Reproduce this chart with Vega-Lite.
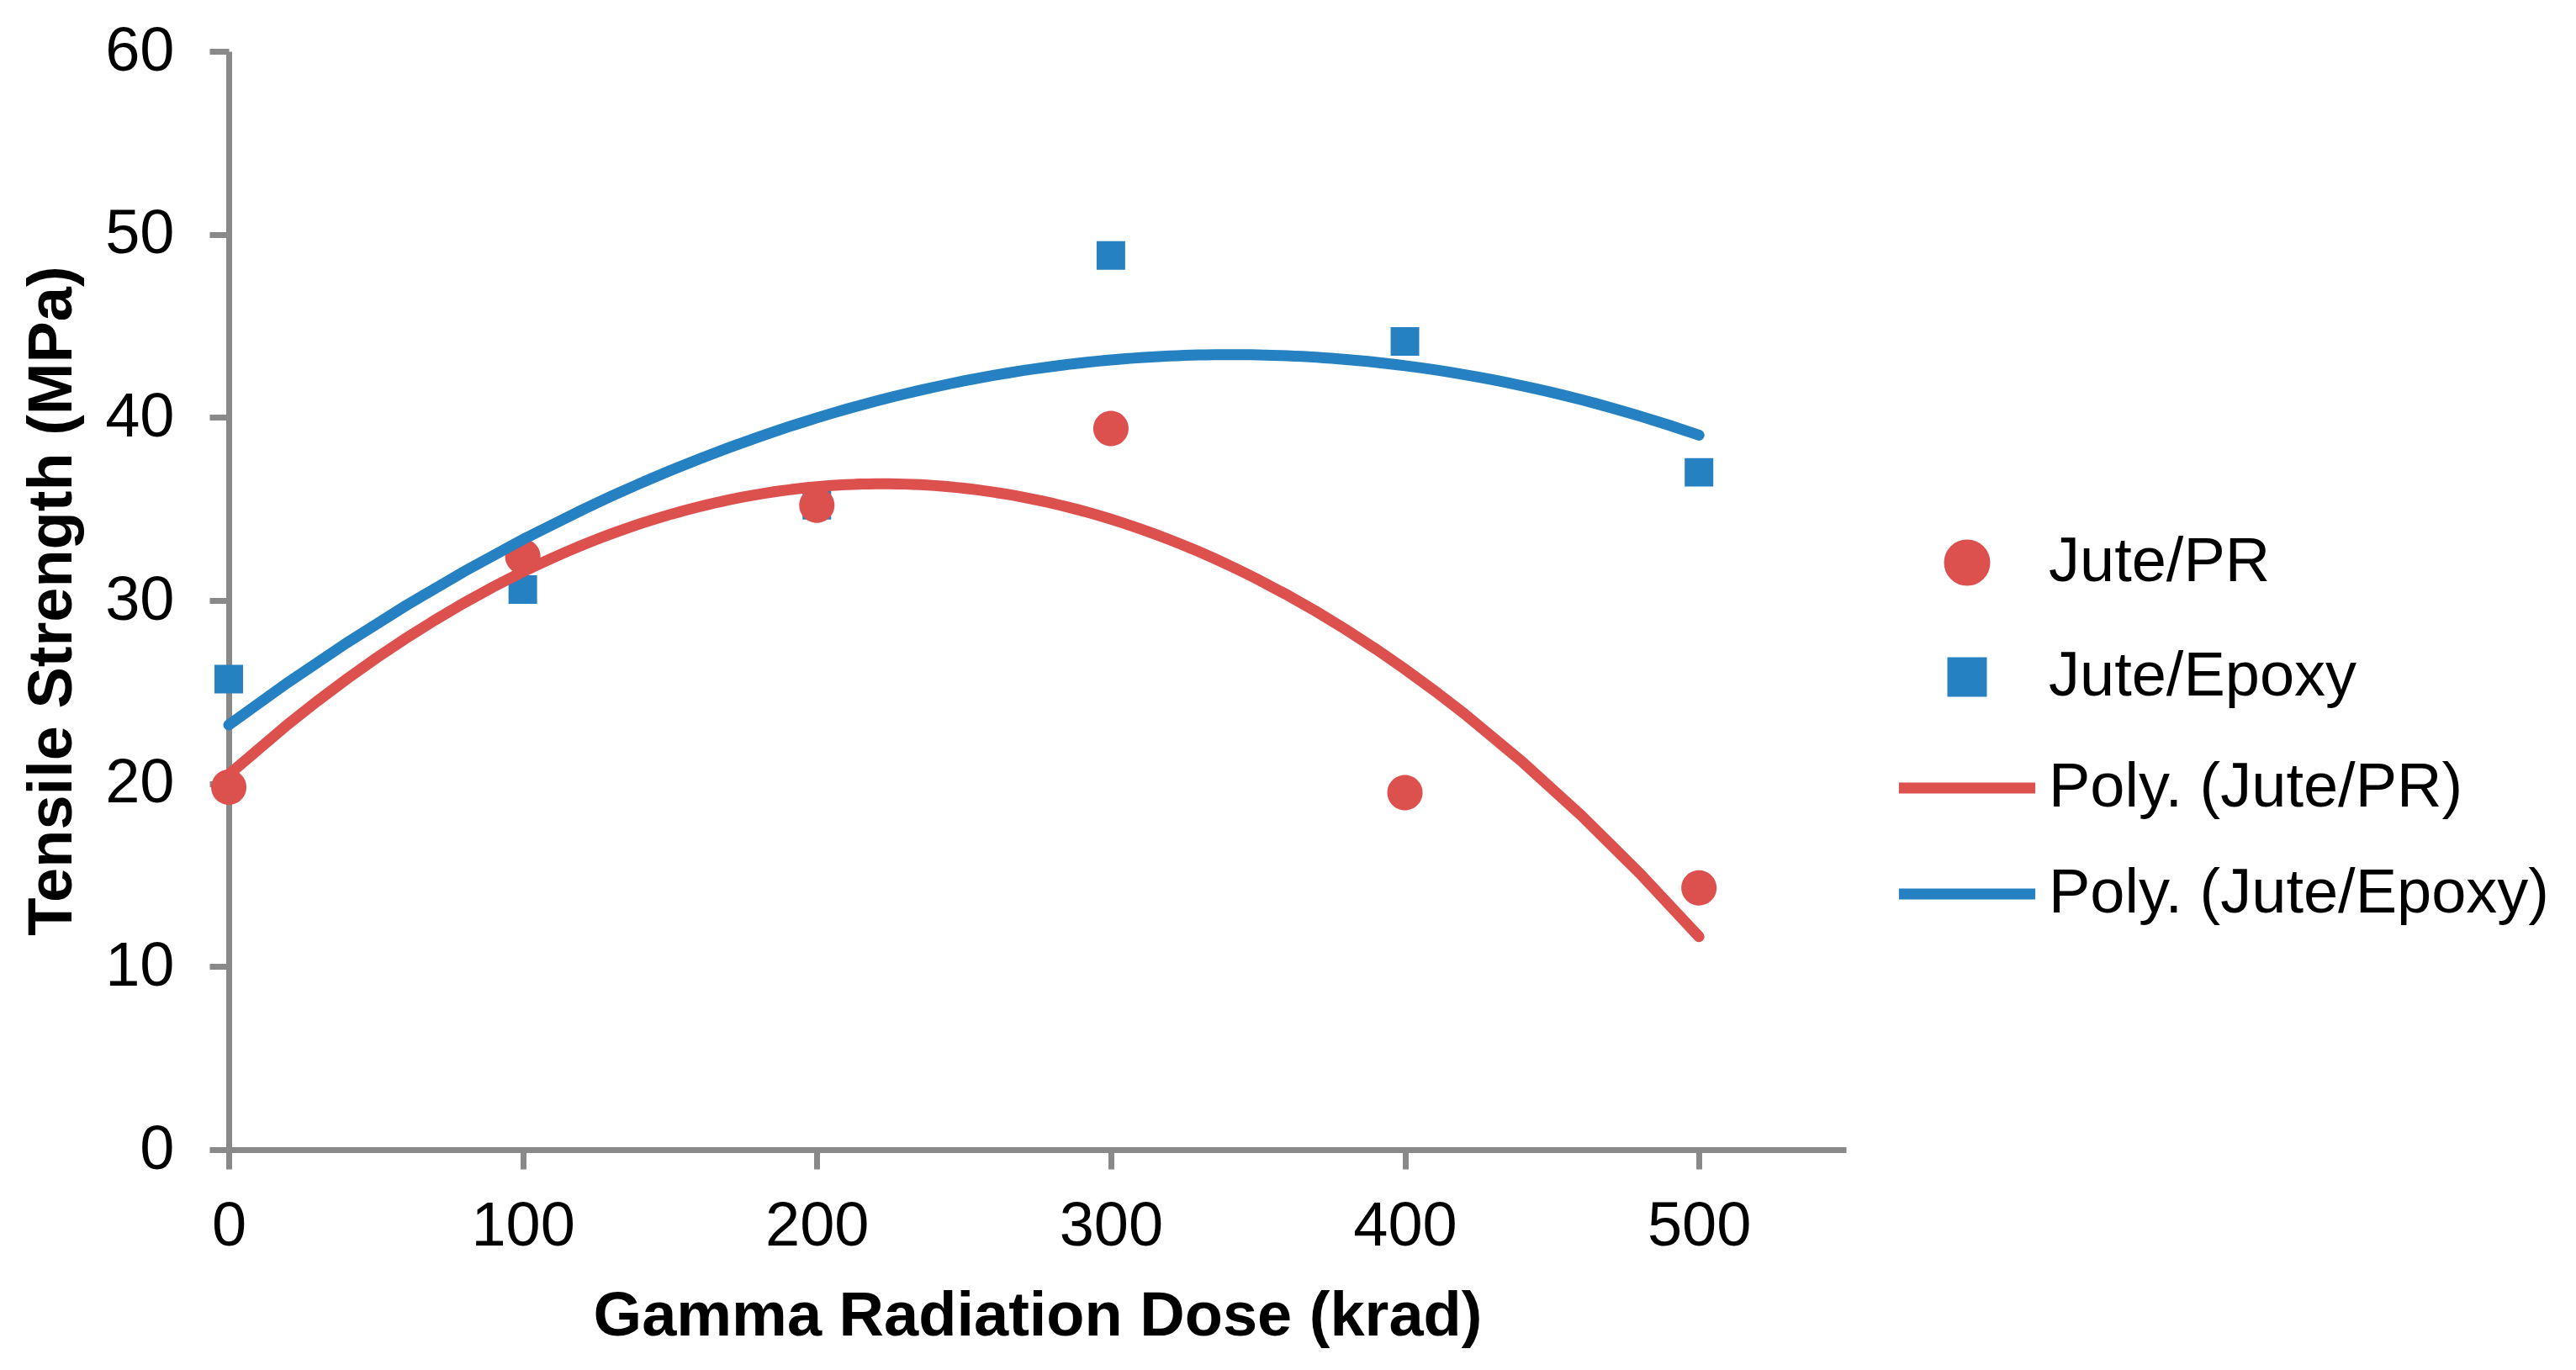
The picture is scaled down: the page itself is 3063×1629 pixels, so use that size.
{
  "$schema": "https://vega.github.io/schema/vega-lite/v6.json",
  "width": 1923,
  "height": 1306,
  "autosize": {"type": "none"},
  "padding": {"left": 272, "top": 61, "right": 868, "bottom": 262},
  "background": "white",
  "config": {
    "view": {"stroke": null},
    "font": "Liberation Sans",
    "axis": {
      "grid": false,
      "labelFlush": false,
      "labelOverlap": false,
      "domainColor": "#898989",
      "domainWidth": 7,
      "tickColor": "#898989",
      "tickWidth": 7,
      "tickSize": 23,
      "labelFont": "Liberation Sans",
      "labelFontSize": 74,
      "labelColor": "#000000",
      "titleFont": "Liberation Sans",
      "titleFontSize": 74,
      "titleFontWeight": "bold",
      "titleColor": "#000000",
      "labelLimit": 1000,
      "titleLimit": 3000
    }
  },
  "data": {
    "values": [
      {"dose": 0, "strength": 25.7, "series": "Jute/Epoxy", "trend": "Poly. (Jute/Epoxy)"},
      {"dose": 100, "strength": 30.6, "series": "Jute/Epoxy", "trend": "Poly. (Jute/Epoxy)"},
      {"dose": 200, "strength": 35.2, "series": "Jute/Epoxy", "trend": "Poly. (Jute/Epoxy)"},
      {"dose": 300, "strength": 48.85, "series": "Jute/Epoxy", "trend": "Poly. (Jute/Epoxy)"},
      {"dose": 400, "strength": 44.15, "series": "Jute/Epoxy", "trend": "Poly. (Jute/Epoxy)"},
      {"dose": 500, "strength": 37.0, "series": "Jute/Epoxy", "trend": "Poly. (Jute/Epoxy)"},
      {"dose": 0, "strength": 19.8, "series": "Jute/PR", "trend": "Poly. (Jute/PR)"},
      {"dose": 100, "strength": 32.4, "series": "Jute/PR", "trend": "Poly. (Jute/PR)"},
      {"dose": 200, "strength": 35.2, "series": "Jute/PR", "trend": "Poly. (Jute/PR)"},
      {"dose": 300, "strength": 39.4, "series": "Jute/PR", "trend": "Poly. (Jute/PR)"},
      {"dose": 400, "strength": 19.5, "series": "Jute/PR", "trend": "Poly. (Jute/PR)"},
      {"dose": 500, "strength": 14.3, "series": "Jute/PR", "trend": "Poly. (Jute/PR)"}
    ]
  },
  "layer": [
    {
      "mark": {"type": "point", "filled": true, "opacity": 1, "strokeWidth": 0, "size": 23409},
      "encoding": {
        "x": {
          "field": "dose", "type": "quantitative",
          "scale": {"domain": [0, 550], "nice": false, "zero": false},
          "axis": {"values": [0, 100, 200, 300, 400, 500], "labelPadding": 32, "title": "Gamma Radiation Dose (krad)", "titlePadding": 34}
        },
        "y": {
          "field": "strength", "type": "quantitative",
          "scale": {"domain": [0, 60], "nice": false},
          "axis": {"values": [0, 10, 20, 30, 40, 50, 60], "labelPadding": 42, "title": "Tensile Strength (MPa)", "titlePadding": 24}
        },
        "color": {
          "field": "series", "type": "nominal",
          "scale": {
            "domain": ["Jute/PR", "Jute/Epoxy", "Poly. (Jute/PR)", "Poly. (Jute/Epoxy)"],
            "range": ["#DC504E", "#2581C1", "#DC504E", "#2581C1"]
          },
          "legend": {
            "title": null,
            "orient": "none",
            "legendX": 1984,
            "legendY": 525,
            "padding": 0,
            "labelFont": "Liberation Sans",
            "labelFontSize": 74,
            "labelColor": "#000000",
            "labelLimit": 1000,
            "labelOffset": 14,
            "rowPadding": 6,
            "symbolSize": 23409,
            "symbolStrokeWidth": 13,
            "encode": {
              "symbols": {
                "update": {
                  "fill": {"signal": "indexof(datum.value, 'Poly') === 0 ? 'transparent' : scale('color', datum.value)"},
                  "stroke": {"signal": "indexof(datum.value, 'Poly') === 0 ? scale('color', datum.value) : 'transparent'"},
                  "strokeWidth": {"signal": "indexof(datum.value, 'Poly') === 0 ? 13 : 0"},
                  "strokeCap": {"value": "round"},
                  "opacity": {"value": 1}
                }
              }
            }
          }
        },
        "shape": {
          "field": "series", "type": "nominal",
          "scale": {
            "domain": ["Jute/PR", "Jute/Epoxy", "Poly. (Jute/PR)", "Poly. (Jute/Epoxy)"],
            "range": [
              "M-0.2745,0A0.2745,0.2745,0,1,1,0.2745,0A0.2745,0.2745,0,1,1,-0.2745,0Z",
              "M-0.222,-0.222L0.222,-0.222L0.222,0.222L-0.222,0.222Z",
              "M-1.06,0L1.06,0",
              "M-1.06,0L1.06,0"
            ]
          },
          "legend": {
            "title": null,
            "orient": "none",
            "legendX": 1984,
            "legendY": 525
          }
        }
      }
    },
    {
      "transform": [
        {"regression": "strength", "on": "dose", "groupby": ["trend"], "method": "poly", "order": 2, "extent": [0, 500]}
      ],
      "mark": {"type": "line", "strokeWidth": 13, "strokeCap": "round"},
      "encoding": {
        "x": {"field": "dose", "type": "quantitative"},
        "y": {"field": "strength", "type": "quantitative"},
        "color": {"field": "trend", "type": "nominal"}
      }
    }
  ]
}
